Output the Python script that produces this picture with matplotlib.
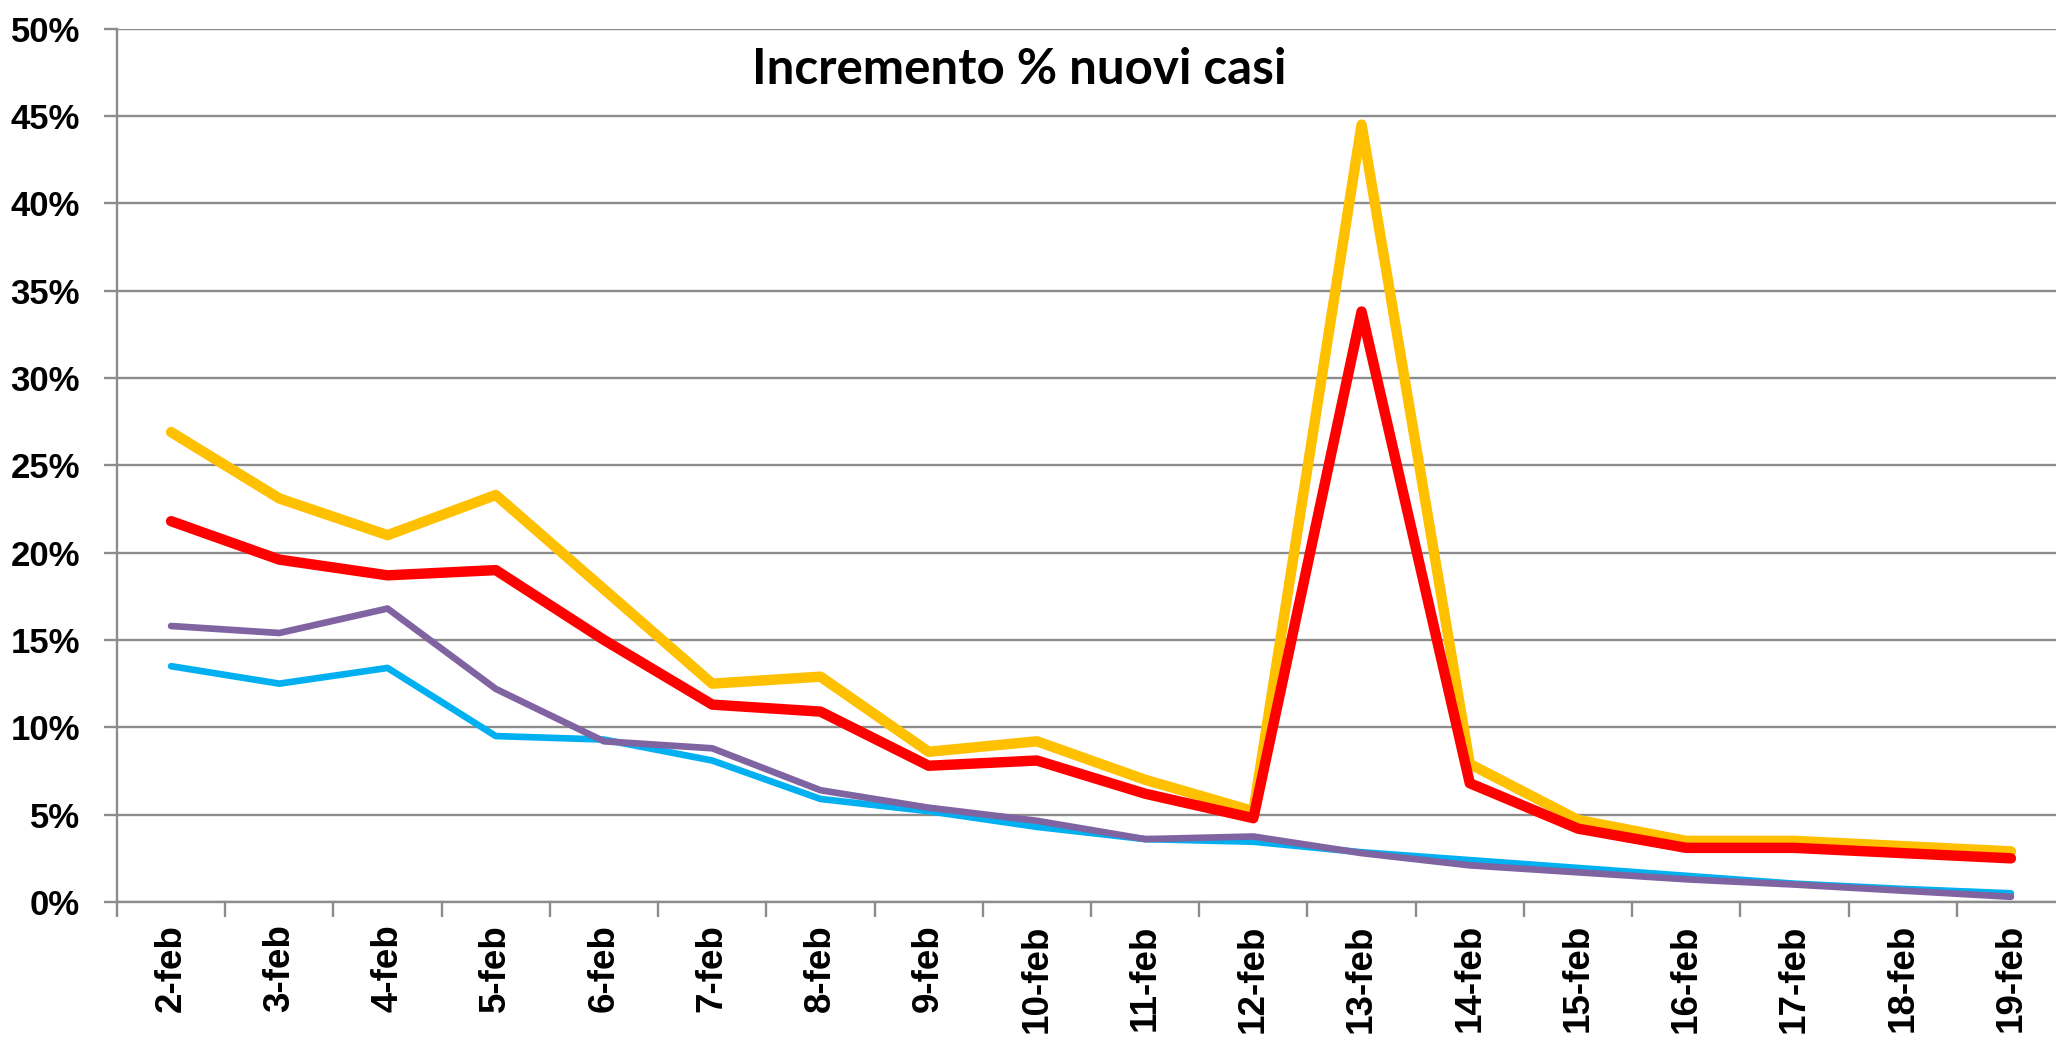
import numpy as np
import matplotlib
matplotlib.use('Agg')
import matplotlib.pyplot as plt
from matplotlib.ticker import FixedLocator, PercentFormatter

# Dati (percentuali)
giorni = ['2-feb', '3-feb', '4-feb', '5-feb', '6-feb', '7-feb', '8-feb', '9-feb', '10-feb',
          '11-feb', '12-feb', '13-feb', '14-feb', '15-feb', '16-feb', '17-feb', '18-feb', '19-feb']

serie_gialla = [26.9, 23.1, 21.0, 23.3, 17.9, 12.5, 12.9, 8.6, 9.2,
                7.0, 5.2, 44.5, 7.9, 4.7, 3.5, 3.5, 3.2, 2.9]
serie_rossa = [21.8, 19.6, 18.7, 19.0, 15.0, 11.3, 10.9, 7.8, 8.1,
               6.2, 4.8, 33.8, 6.8, 4.2, 3.1, 3.1, 2.8, 2.5]
serie_viola = [15.8, 15.4, 16.8, 12.2, 9.2, 8.8, 6.4, 5.4, 4.65,
               3.6, 3.75, 2.8, 2.1, 1.7, 1.3, 1.0, 0.65, 0.3]
serie_blu = [13.5, 12.5, 13.4, 9.5, 9.3, 8.1, 5.9, 5.2, 4.3,
             3.6, 3.45, 2.85, 2.4, 1.95, 1.5, 1.05, 0.75, 0.5]

x = np.arange(len(giorni))

fig = plt.figure(figsize=(20.56, 10.38), dpi=100)
ax = fig.add_axes([0.0569, 0.131, 0.9475, 0.8415])

grigio = '#8c8c8c'

ax.plot(x, serie_blu, color='#00b0f0', lw=4.8, solid_capstyle='round', zorder=3)
ax.plot(x, serie_viola, color='#8064a2', lw=4.8, solid_capstyle='round', zorder=3)
ax.plot(x, serie_gialla, color='#ffc000', lw=7.5, solid_capstyle='round', zorder=3)
ax.plot(x, serie_rossa, color='#ff0000', lw=7.5, solid_capstyle='round', zorder=3)

ax.set_xlim(-0.5, len(giorni) - 0.5)
ax.set_ylim(0, 50)
ax.set_yticks(np.arange(0, 51, 5))
ax.yaxis.set_major_formatter(PercentFormatter(decimals=0))
ax.grid(axis='y', color=grigio, lw=1.7, zorder=1)

ax.set_xticks(x)
ax.set_xticklabels(giorni, rotation=90, fontsize=26.5, fontweight='bold',
                   family='Liberation Sans', va='top', ha='center')
ax.xaxis.set_minor_locator(FixedLocator(np.arange(-0.5, len(giorni), 1)))
ax.tick_params(axis='x', which='major', length=0, pad=16)
ax.tick_params(axis='x', which='minor', length=11, width=1.7, color=grigio)
ax.tick_params(axis='y', which='major', length=9.5, width=1.7, color=grigio, pad=17)
for lab in ax.get_yticklabels():
    lab.set_fontsize(25)
    lab.set_fontweight('bold')
    lab.set_family('Liberation Sans')

for s in ['top', 'right']:
    ax.spines[s].set_visible(False)
ax.spines['left'].set_color(grigio)
ax.spines['left'].set_linewidth(1.7)
ax.spines['bottom'].set_color(grigio)
ax.spines['bottom'].set_linewidth(1.7)

fig.text(0.4956, 0.933, 'Incremento % nuovi casi', fontsize=35.5, fontweight='bold',
         family='Lato', ha='center', va='center')

fig.savefig('out.png', dpi=100)
